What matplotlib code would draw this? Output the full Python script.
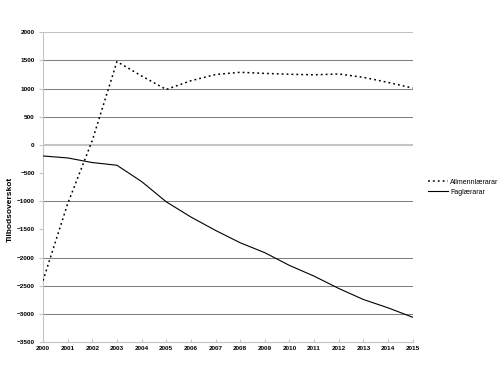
import matplotlib
matplotlib.use("Agg")
import matplotlib.pyplot as plt

years = list(range(2000, 2016))
allmenn = [-2410, -1045, 80, 1480, 1225, 985, 1140, 1250, 1290, 1270, 1255, 1245, 1260, 1200, 1110, 1010]
fag = [-196, -231, -313, -361, -650, -1010, -1280, -1518, -1737, -1914, -2140, -2330, -2549, -2745, -2893, -3060]
yticks = list(range(-3500, 2001, 500))
dark_grid = [1500, 1000, 500, -1000, -2000, -2500, -3000]
light_grid = [2000, 0]

plt.rcParams['font.family'] = ['Liberation Sans', 'DejaVu Sans']

fig = plt.figure(figsize=(5, 3.77), dpi=100)
ax = fig.add_axes([0.086, 0.0928, 0.7394, 0.8215])

for g in dark_grid:
    ax.axhline(g, color="#808080", lw=0.75, zorder=1)
for g in light_grid:
    ax.axhline(g, color="#c4c4c4", lw=1.5 if g == 0 else 0.8, zorder=1)

ax.plot(years, allmenn, color="black", lw=1.1, linestyle=(0, (1.2, 2.0)), label="Allmennlærarar", zorder=3)
ax.plot(years, fag, color="black", lw=0.8, label="Faglærarar", zorder=3)

ax.set_xlim(2000, 2015)
ax.set_ylim(-3500, 2000)
ax.set_xticks(years)
ax.set_xticklabels([str(y) for y in years])
ax.set_yticks(yticks)

for s in ["top", "right"]:
    ax.spines[s].set_visible(False)
ax.spines["left"].set_color("#c4c4c4")
ax.spines["bottom"].set_color("#c4c4c4")
ax.tick_params(axis="y", direction="out", length=3, color="#c4c4c4", labelsize=4.6, pad=3)
ax.tick_params(axis="x", direction="in", length=2, color="#c4c4c4", labelsize=4.6, pad=3)
for lab in ax.get_xticklabels() + ax.get_yticklabels():
    lab.set_fontweight("bold")

fig.text(0.021, 0.445, "Tilbodsoverskot", rotation=90, ha="center", va="center",
         fontsize=6.0, fontweight="bold")

leg = ax.legend(loc="center left", bbox_to_anchor=(1.035, 0.5), frameon=False,
                fontsize=5.0, handlelength=2.8, handletextpad=0.3, labelspacing=0.4,
                borderaxespad=0)

fig.savefig("out.png", dpi=100)
